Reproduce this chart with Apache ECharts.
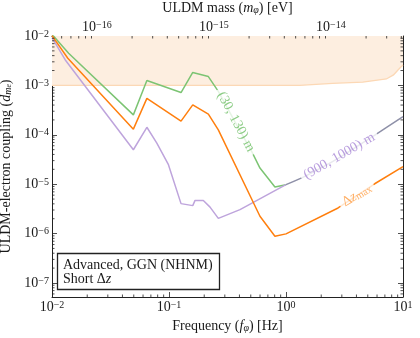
<!DOCTYPE html>
<html><head><meta charset="utf-8">
<script src="https://cdn.jsdelivr.net/npm/echarts@6/dist/echarts.min.js"></script>
<style>html,body{margin:0;padding:0;background:#fff}#c{width:420px;height:338px}</style>
</head><body><div id="c"></div>
<script>
// ---------------- data ----------------
const H_EV_S = 4.135667696e-15; // eV*s, mass = h * f

const freqGreen = [0.01, 0.01387, 0.0496, 0.0647, 0.1267, 0.1596, 0.217, 0.264, 0.3664, 0.5087, 0.599, 0.804, 1.0];
const coupGreen = [1.08e-2, 4.47e-3, 2.53e-4, 1.26e-3, 7.16e-4, 1.83e-3, 1.51e-3, 7.57e-4, 1.83e-4, 4.6e-5, 2.12e-5, 8.77e-6, 9.77e-6];

const freqOrange = [0.01, 0.01365, 0.0496, 0.0647, 0.1267, 0.1596, 0.217, 0.264, 0.599, 0.804, 1.0, 2.786, 5.73, 10];
const coupOrange = [1.02e-2, 3.55e-3, 1.30e-4, 5.46e-4, 1.89e-4, 4.04e-4, 2.62e-4, 1.26e-4, 2.24e-6, 8.81e-7, 9.86e-7, 3.30e-6, 1.02e-5, 2.26e-5];

const freqPurple = [0.01, 0.01299, 0.0496, 0.0647, 0.0787, 0.0989, 0.1267, 0.1596, 0.167, 0.1965, 0.2243, 0.264, 0.4043, 1.0];
const coupPurple = [9.3e-3, 3.27e-3, 4.98e-5, 1.42e-4, 6.79e-5, 2.48e-5, 4.04e-6, 3.68e-6, 4.69e-6, 4.69e-6, 3.43e-6, 2.03e-6, 3.05e-6, 9.77e-6];

const freqShared = [1.0, 1.449, 2.884, 5.62, 10];
const coupShared = [9.77e-6, 1.44e-5, 3.5e-5, 9.55e-5, 2.34e-4];

const freqShade = [0.01, 0.3, 1.31, 2.5, 4.53, 7.21, 8.3, 9.06, 9.6, 10];
const coupShade = [1.0e-3, 1.0e-3, 1.0e-3, 1.1e-3, 1.16e-3, 1.35e-3, 1.63e-3, 2.05e-3, 2.35e-3, 2.59e-3];

const labelTexts = ['(30, 130) m', '(900, 1000) m', 'Δz_max'];
const labelFreq = [0.3737, 2.855, 4.03];
const labelCoup = [1.83e-4, 3.70e-5, 6.0e-6];

const xTickExps = [-2, -1, 0, 1];
const yTickExps = [-7, -6, -5, -4, -3, -2];
const massTickExps = [-16, -15, -14];

const X_MIN = 0.01, X_MAX = 10, Y_MIN = 5.2e-8, Y_MAX = 1e-2;

// ---------------- styling helpers ----------------
const FONT = 'Liberation Serif';
const FS = 14;
const TXT = '#1a1a1a';
const pairs = (xs, ys) => xs.map((x, i) => [x, ys[i]]);

function expFormatter(list) {
  return function (v) {
    const l = Math.log10(v);
    const e = Math.round(l);
    if (Math.abs(l - e) > 1e-6 || list.indexOf(e) < 0) return '';
    return '10{s|' + (e < 0 ? '\u2212' : '') + Math.abs(e) + '}';
  };
}
const tickRich = { s: { fontSize: 10, fontFamily: FONT, color: TXT, verticalAlign: 'top', lineHeight: 10 } };

function minorList(lo, hi) {
  const out = [];
  for (let n = Math.floor(Math.log10(lo)) - 1; n <= Math.ceil(Math.log10(hi)); n++) {
    for (let k = 2; k <= 9; k++) {
      const v = k * Math.pow(10, n);
      if (v > lo * 1.0001 && v < hi * 0.9999) out.push(v);
    }
  }
  return out;
}
const minorX = minorList(X_MIN, X_MAX);
const minorY = minorList(Y_MIN, Y_MAX);
const minorMassF = minorList(H_EV_S * X_MIN, H_EV_S * X_MAX).map(m => m / H_EV_S);

function tickSeries(kind, vals, len) {
  return {
    type: 'custom', xAxisIndex: 0, yAxisIndex: 0, silent: true, z: 10,
    data: vals.map(v => kind === 'y' ? [1, v] : [v, 1e-4]),
    renderItem: function (params, api) {
      const cs = params.coordSys;
      const p = api.coord([api.value(0), api.value(1)]);
      const st = { stroke: '#222', lineWidth: 0.8 };
      if (kind === 'y') {
        return { type: 'group', children: [
          { type: 'line', shape: { x1: cs.x, y1: p[1], x2: cs.x + len, y2: p[1] }, style: st },
          { type: 'line', shape: { x1: cs.x + cs.width, y1: p[1], x2: cs.x + cs.width - len, y2: p[1] }, style: st }
        ] };
      }
      const yb = kind === 'top' ? cs.y : cs.y + cs.height;
      const dir = kind === 'top' ? 1 : -1;
      return { type: 'line', shape: { x1: p[0], y1: yb, x2: p[0], y2: yb + dir * len }, style: st };
    }
  };
}

function labelSeries(i, color, rot) {
  return {
    type: 'scatter', symbol: 'circle', symbolSize: 1, z: 8, silent: true,
    itemStyle: { color: 'rgba(0,0,0,0)' },
    data: [[labelFreq[i], labelCoup[i]]],
    label: {
      show: true, position: 'inside', rotate: rot, color: color,
      fontFamily: FONT, fontSize: FS, backgroundColor: '#fff', padding: [0, 4],
      formatter: function () {
        const t = labelTexts[i];
        if (t.indexOf('_') >= 0) { const p = t.split('_'); return p[0].slice(0, 1) + '{i|' + p[0].slice(1) + '}{sub|' + p[1] + '}'; }
        return t;
      },
      rich: {
        i: { fontStyle: 'italic', fontFamily: FONT, fontSize: FS, color: color },
        sub: { fontSize: 10, fontFamily: FONT, color: color, verticalAlign: 'bottom', lineHeight: 10 }
      }
    }
  };
}

const axisLineStyle = { color: '#222', width: 1 };
const nameRich = {
  i: { fontStyle: 'italic', fontFamily: FONT, fontSize: FS, color: TXT },
  sub: { fontStyle: 'italic', fontSize: 10, fontFamily: FONT, color: TXT, verticalAlign: 'bottom', lineHeight: 10 },
  ss: { fontStyle: 'italic', fontSize: 7.5, fontFamily: FONT, color: TXT, verticalAlign: 'bottom', lineHeight: 7 }
};

const option = {
  animation: false,
  backgroundColor: '#fff',
  textStyle: { fontFamily: FONT, color: TXT },
  grid: { left: 52, right: 17, top: 36, bottom: 41, containLabel: false, outerBoundsMode: 'none' },
  title: {
    text: 'Advanced, GGN (NHNM)\nShort Δ{i|z}',
    left: 57, top: 253,
    borderColor: '#222', borderWidth: 1.3,
    padding: [5, 7, 4, 6], backgroundColor: '#fff',
    textStyle: {
      fontFamily: FONT, fontSize: FS, fontWeight: 'normal', color: TXT, lineHeight: 14,
      rich: { i: { fontStyle: 'italic', fontFamily: FONT, fontSize: FS, color: TXT } }
    }
  },
  xAxis: [
    {
      type: 'log', logBase: 10, min: X_MIN, max: X_MAX, position: 'bottom',
      name: 'Frequency ({i|f}{sub|φ}) [Hz]', nameLocation: 'middle', nameGap: 20,
      nameTextStyle: { fontFamily: FONT, fontSize: FS, color: TXT, rich: nameRich },
      axisLine: { show: true, lineStyle: axisLineStyle },
      axisTick: { show: true, inside: true, length: 5, lineStyle: { color: '#222', width: 0.8 } },
      axisLabel: { show: true, margin: 3, fontFamily: FONT, fontSize: FS, color: TXT, showMinLabel: true, showMaxLabel: true,
        formatter: expFormatter(xTickExps), rich: tickRich },
      splitLine: { show: false }, minorTick: { show: false }
    },
    {
      type: 'log', logBase: 10, min: H_EV_S * X_MIN, max: H_EV_S * X_MAX, position: 'top',
      name: 'ULDM mass ({i|m}{sub|φ}) [eV]', nameLocation: 'middle', nameGap: 12,
      nameTextStyle: { fontFamily: FONT, fontSize: FS, color: TXT, rich: nameRich },
      axisLine: { show: true, lineStyle: axisLineStyle },
      axisTick: { show: true, inside: true, length: 5, lineStyle: { color: '#222', width: 0.8 } },
      axisLabel: { show: true, margin: 2, fontFamily: FONT, fontSize: FS, color: TXT, showMinLabel: true, showMaxLabel: true,
        formatter: expFormatter(massTickExps), rich: tickRich },
      splitLine: { show: false }, minorTick: { show: false }
    }
  ],
  yAxis: [
    {
      type: 'log', logBase: 10, min: Y_MIN, max: Y_MAX, position: 'left',
      name: 'ULDM-electron coupling ({i|d}{sub|m}{ss|e})', nameLocation: 'middle', nameGap: 27, nameRotate: 90,
      nameTextStyle: { fontFamily: FONT, fontSize: FS, color: TXT, rich: nameRich },
      axisLine: { show: true, lineStyle: axisLineStyle },
      axisTick: { show: true, inside: true, length: 5, lineStyle: { color: '#222', width: 0.8 } },
      axisLabel: { show: true, margin: 3, fontFamily: FONT, fontSize: FS, color: TXT, showMinLabel: true, showMaxLabel: true,
        formatter: expFormatter(yTickExps), rich: tickRich },
      splitLine: { show: false }, minorTick: { show: false }
    },
    {
      type: 'log', logBase: 10, min: Y_MIN, max: Y_MAX, position: 'right',
      axisLine: { show: true, lineStyle: axisLineStyle },
      axisTick: { show: true, inside: true, length: 5, lineStyle: { color: '#222', width: 0.8 } },
      axisLabel: { show: false }, splitLine: { show: false }
    }
  ],
  series: [
    {
      type: 'custom', silent: true, z: 1, xAxisIndex: 0, yAxisIndex: 0,
      data: [[freqShade[0], coupShade[0]]],
      renderItem: function (params, api) {
        const pts = freqShade.map((f, i) => api.coord([f, coupShade[i]]));
        const top = params.coordSys.y;
        const poly = pts.concat([[pts[pts.length - 1][0], top], [pts[0][0], top]]);
        return { type: 'group', children: [
          { type: 'polygon', shape: { points: poly }, style: { fill: '#fdeee0' } },
          { type: 'polyline', shape: { points: pts }, style: { stroke: '#fcd8b5', lineWidth: 1.3, fill: null } }
        ] };
      }
    },
    { type: 'line', name: 'green', data: pairs(freqGreen, coupGreen), symbol: 'none', z: 3,
      lineStyle: { color: '#7cc473', width: 1.5 }, itemStyle: { color: '#7cc473' } },
    { type: 'line', name: 'purple', data: pairs(freqPurple, coupPurple), symbol: 'none', z: 3,
      lineStyle: { color: '#bea4dc', width: 1.5 }, itemStyle: { color: '#bea4dc' } },
    { type: 'line', name: 'shared', data: pairs(freqShared, coupShared), symbol: 'none', z: 3, smooth: 0.2,
      lineStyle: { color: '#8e90a8', width: 1.5 }, itemStyle: { color: '#8e90a8' } },
    { type: 'line', name: 'orange', data: pairs(freqOrange, coupOrange), symbol: 'none', z: 4,
      lineStyle: { color: '#ff7f0e', width: 1.5 }, itemStyle: { color: '#ff7f0e' } },
    labelSeries(0, '#6fbf66', -62),
    labelSeries(1, '#a886d6', 30),
    labelSeries(2, '#ff9a3c', 31),
    tickSeries('x', minorX, 2.5),
    tickSeries('y', minorY, 2.5),
    tickSeries('top', minorMassF, 2.5)
  ]
};

const chart = echarts.init(document.getElementById('c'), null, { renderer: 'canvas' });
chart.setOption(option);
</script>
</body></html>
